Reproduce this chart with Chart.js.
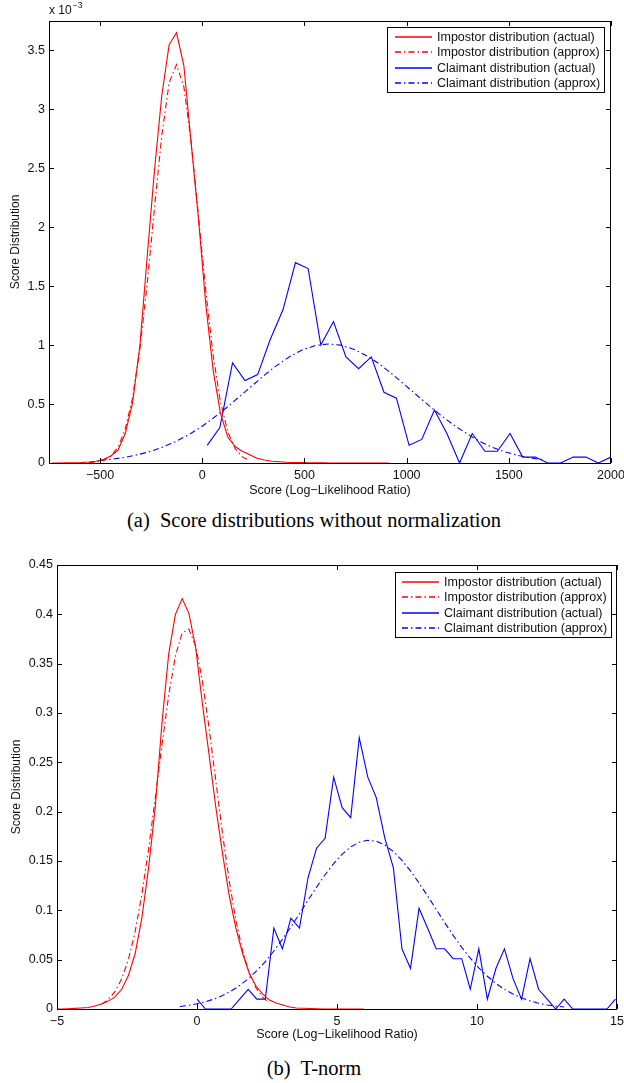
<!DOCTYPE html>
<html><head><meta charset="utf-8">
<script src="https://cdn.jsdelivr.net/npm/chart.js@4.4.1/dist/chart.umd.min.js"></script>
<style>
html,body{margin:0;padding:0;background:#fff;}
body{width:624px;height:1083px;position:relative;overflow:hidden;}
canvas{position:absolute;left:0;}
#ca{top:0;}
#cb{top:545px;}
.cap{position:absolute;left:0;width:628px;text-align:center;font-family:"Liberation Serif","Times New Roman",serif;font-size:20.5px;line-height:24px;color:#000;white-space:pre;}
</style></head><body>
<canvas id="ca" width="624" height="500"></canvas>
<canvas id="cb" width="624" height="500"></canvas>
<div class="cap" style="top:508px">(a)  Score distributions without normalization</div>
<div class="cap" style="top:1056px">(b)  T-norm</div>
<script>
// ---------- DATA: chart (a), values in units of 10^-3 ----------
const impActXA = [-735,-699,-663,-627,-591,-556,-520,-484,-448,-412,-377,-341,-305,-269,-233,-198,-162,-126,-90,-54,-18,17,53,89,125,161,196,232,268,304,340,375,411,447,483,519,555,590,626,662,698,734,769,805,841,877,913];
const impActYA = [0,0,0.001,0.002,0.004,0.008,0.015,0.03,0.06,0.11,0.25,0.51,1.00,1.76,2.50,3.12,3.55,3.65,3.37,2.71,2.06,1.35,0.79,0.42,0.22,0.14,0.10,0.07,0.04,0.025,0.015,0.01,0.006,0.004,0.003,0.002,0.001,0.001,0,0,0,0,0,0,0,0,0];
const impAppXA = [-556,-520,-484,-448,-412,-377,-341,-305,-269,-233,-198,-162,-126,-90,-54,-18,17,53,89,125,161,196,232];
const impAppYA = [0.002,0.007,0.022,0.057,0.136,0.286,0.554,0.970,1.530,2.178,2.780,3.228,3.38,3.191,2.717,2.087,1.462,0.916,0.517,0.264,0.121,0.052,0.019];
const claActXA = [24,86,148,209,271,333,395,456,518,580,642,703,765,827,889,950,1012,1074,1136,1197,1259,1321,1383,1444,1506,1568,1630,1691,1753,1815,1877,1938,2000];
const claActYA = [0.15,0.30,0.85,0.70,0.75,1.05,1.30,1.70,1.65,1.00,1.20,0.90,0.80,0.90,0.60,0.55,0.15,0.20,0.45,0.25,0,0.25,0.10,0.10,0.25,0.05,0.05,0,0,0.05,0.05,0,0.05];
const claAppXA = [-500,-438,-376,-314,-252,-190,-128,-66,-4,58,120,182,244,306,368,430,492,554,616,678,740,802,864,926,988,1050,1112,1174,1236,1298,1360,1422,1484,1546,1608,1670];
const claAppYA = [0.022,0.033,0.049,0.071,0.099,0.137,0.184,0.240,0.308,0.386,0.471,0.563,0.656,0.748,0.832,0.905,0.961,0.997,1.010,1.000,0.966,0.913,0.843,0.759,0.668,0.575,0.483,0.396,0.315,0.245,0.180,0.132,0.093,0.064,0.042,0.027];
const xTicksA = [-500,0,500,1000,1500,2000];
const yTicksA = [0,0.5,1,1.5,2,2.5,3,3.5];

// ---------- DATA: chart (b) ----------
const impActXB = [-5.09,-4.85,-4.61,-4.37,-4.13,-3.89,-3.65,-3.41,-3.17,-2.93,-2.69,-2.45,-2.21,-1.97,-1.73,-1.49,-1.25,-1.01,-0.77,-0.53,-0.29,-0.05,0.19,0.43,0.67,0.91,1.15,1.39,1.63,1.87,2.11,2.35,2.59,2.83,3.07,3.31,3.55,3.79,4.03,4.27,4.51,4.75,4.99,5.23,5.47,5.71,5.95];
const impActYB = [0,0,0.0003,0.0006,0.001,0.0015,0.003,0.005,0.008,0.012,0.020,0.034,0.056,0.092,0.143,0.205,0.290,0.360,0.400,0.416,0.401,0.367,0.310,0.258,0.205,0.158,0.115,0.082,0.056,0.036,0.023,0.015,0.009,0.006,0.004,0.002,0.001,0.0008,0.0005,0.0003,0,0,0,0,0,0,0];
const impAppXB = [-3.41,-3.17,-2.93,-2.69,-2.45,-2.21,-1.97,-1.73,-1.49,-1.25,-1.01,-0.77,-0.53,-0.29,-0.05,0.19,0.43,0.67,0.91,1.15,1.39,1.63,1.87,2.11,2.35,2.59];
const impAppYB = [0.0049,0.0096,0.0176,0.0306,0.0502,0.0783,0.116,0.162,0.214,0.268,0.318,0.358,0.381,0.385,0.368,0.333,0.285,0.232,0.178,0.130,0.0896,0.0586,0.0363,0.0213,0.0118,0.0062];
const claActXB = [0,0.305,0.61,0.915,1.22,1.525,1.83,2.135,2.44,2.745,3.05,3.355,3.66,3.965,4.27,4.575,4.88,5.185,5.49,5.795,6.1,6.405,6.71,7.015,7.32,7.625,7.93,8.235,8.54,8.845,9.15,9.455,9.76,10.065,10.37,10.675,10.98,11.285,11.59,11.895,12.2,12.505,12.81,13.115,13.42,13.725,14.03,14.335,14.64,14.945];
const claActYB = [0.010,0,0,0,0,0.010,0.020,0.010,0.010,0.082,0.061,0.092,0.082,0.133,0.163,0.173,0.235,0.204,0.194,0.275,0.235,0.214,0.173,0.143,0.061,0.041,0.102,0.082,0.061,0.061,0.051,0.051,0.020,0.061,0.010,0.041,0.061,0.031,0.010,0.051,0.020,0.010,0,0.010,0,0,0,0,0,0.010];
const claAppXB = [-0.61,-0.305,0,0.305,0.61,0.915,1.22,1.525,1.83,2.135,2.44,2.745,3.05,3.355,3.66,3.965,4.27,4.575,4.88,5.185,5.49,5.795,6.1,6.405,6.71,7.015,7.32,7.625,7.93,8.235,8.54,8.845,9.15,9.455,9.76,10.065,10.37,10.675,10.98,11.285,11.59,11.895,12.2,12.505,12.81,13.115];
const claAppYB = [0.0025,0.0037,0.0053,0.0074,0.0101,0.0137,0.0182,0.0238,0.0307,0.0388,0.0481,0.0588,0.0706,0.0833,0.0966,0.1102,0.1235,0.1361,0.1474,0.1569,0.1643,0.1690,0.1710,0.1700,0.1661,0.1596,0.1507,0.1400,0.1277,0.1146,0.1011,0.0876,0.0746,0.0625,0.0515,0.0417,0.0332,0.0259,0.0199,0.0151,0.0112,0.0082,0.0059,0.0041,0.0029,0.0020];
const xTicksB = [-5,0,5,10,15];
const yTicksB = [0,0.05,0.1,0.15,0.2,0.25,0.3,0.35,0.4,0.45];

const seriesNames = ['Impostor distribution (actual)','Impostor distribution (approx)','Claimant distribution (actual)','Claimant distribution (approx)'];

// ---------- rendering ----------
const FONT = '"Liberation Sans", Arial, Helvetica, sans-serif';
Chart.defaults.font.family = FONT;
Chart.defaults.color = '#111';
const RED = '#ff0000', BLUE = '#0000ff';
const DASHDOT = [6, 3, 1.5, 3];
const fmt = v => String(v).replace('-', '\u2212');
const pts = (xs, ys) => xs.map((x, i) => ({x, y: ys[i]}));

const framePlugin = {
  id: 'frame',
  afterDatasetsDraw(chart) {
    const {ctx, chartArea: a} = chart;
    const xs = chart.scales.x, ys = chart.scales.y;
    ctx.save();
    ctx.strokeStyle = '#000';
    ctx.lineWidth = 1;
    ctx.beginPath();
    const L = 5;
    xs.ticks.forEach(t => {
      const p = Math.round(xs.getPixelForValue(t.value)) + 0.5;
      ctx.moveTo(p, a.bottom); ctx.lineTo(p, a.bottom - L);
      ctx.moveTo(p, a.top); ctx.lineTo(p, a.top + L);
    });
    ys.ticks.forEach(t => {
      const p = Math.round(ys.getPixelForValue(t.value)) + 0.5;
      ctx.moveTo(a.left, p); ctx.lineTo(a.left + L, p);
      ctx.moveTo(a.right, p); ctx.lineTo(a.right - L, p);
    });
    ctx.stroke();
    ctx.strokeRect(a.left + 0.5, a.top + 0.5, a.right - a.left - 1, a.bottom - a.top);
    ctx.restore();
  },
  afterDraw(chart, args, o) {
    const {ctx} = chart;
    ctx.save();
    const lg = o.legend;
    ctx.fillStyle = '#fff';
    ctx.fillRect(lg.left, lg.top, lg.right - lg.left, lg.bottom - lg.top);
    ctx.strokeStyle = '#000';
    ctx.lineWidth = 1;
    ctx.strokeRect(lg.left + 0.5, lg.top + 0.5, lg.right - lg.left, lg.bottom - lg.top);
    ctx.font = '12.5px ' + FONT;
    ctx.textBaseline = 'middle';
    chart.data.datasets.forEach((ds, i) => {
      const y = lg.rows[i];
      ctx.strokeStyle = ds.borderColor;
      ctx.lineWidth = 1.3;
      ctx.setLineDash(ds.borderDash || []);
      ctx.beginPath();
      ctx.moveTo(lg.s1, Math.round(y));
      ctx.lineTo(lg.s2, Math.round(y));
      ctx.stroke();
      ctx.setLineDash([]);
      ctx.fillStyle = '#111';
      ctx.fillText(ds.label, lg.tx, y + 0.5);
    });
    if (o.exponent) {
      ctx.fillStyle = '#111';
      ctx.textBaseline = 'alphabetic';
      ctx.font = '12px ' + FONT;
      ctx.fillText('x 10', o.exponent.x, o.exponent.y);
      const w = ctx.measureText('x 10').width;
      ctx.font = '8.5px ' + FONT;
      ctx.fillText('\u22123', o.exponent.x + w + 1, o.exponent.y - 6);
    }
    ctx.restore();
  }
};

function makeChart(id, cfg) {
  const ds = (label, data, color, dash) => ({
    label, data, borderColor: color, backgroundColor: color, borderWidth: 1.1,
    borderDash: dash, pointRadius: 0, tension: 0, fill: false
  });
  return new Chart(document.getElementById(id), {
    type: 'line',
    data: { datasets: [
      ds(seriesNames[0], cfg.series[0], RED, []),
      ds(seriesNames[1], cfg.series[1], RED, DASHDOT),
      ds(seriesNames[2], cfg.series[2], BLUE, []),
      ds(seriesNames[3], cfg.series[3], BLUE, DASHDOT)
    ]},
    options: {
      responsive: false, animation: false,
      layout: { padding: cfg.padding },
      plugins: { legend: { display: false }, tooltip: { enabled: false }, frame: cfg.frame },
      scales: {
        x: {
          type: 'linear', min: cfg.xmin, max: cfg.xmax,
          afterBuildTicks: s => { s.ticks = cfg.xTicks.map(v => ({value: v})); },
          afterFit: s => { s.height = cfg.xAxisH; s.paddingLeft = 0; s.paddingRight = 0; },
          grid: { display: false, drawTicks: false },
          border: { display: false },
          ticks: { autoSkip: false, maxRotation: 0, padding: 5, font: { size: 12.5 }, callback: v => fmt(v) },
          title: { display: true, text: 'Score (Log\u2212Likelihood Ratio)', font: { size: 12.5 }, padding: { top: 0, bottom: cfg.xTitlePad } }
        },
        y: {
          type: 'linear', min: cfg.ymin, max: cfg.ymax,
          afterBuildTicks: s => { s.ticks = cfg.yTicks.map(v => ({value: v})); },
          afterFit: s => { s.width = cfg.yAxisW; s.paddingTop = 0; s.paddingBottom = 0; },
          grid: { display: false, drawTicks: false },
          border: { display: false },
          ticks: { autoSkip: false, padding: 4, font: { size: 12.5 }, callback: v => fmt(v) },
          title: { display: true, text: 'Score Distribution', font: { size: 12 }, padding: { top: cfg.yTitlePad, bottom: 0 } }
        }
      }
    },
    plugins: [framePlugin]
  });
}

makeChart('ca', {
  series: [pts(impActXA, impActYA), pts(impAppXA, impAppYA), pts(claActXA, claActYA), pts(claAppXA, claAppYA)],
  xmin: -750, xmax: 2000, ymin: 0, ymax: 3.75,
  xTicks: xTicksA, yTicks: yTicksA,
  padding: { left: 0, top: 21, right: 13, bottom: 0 },
  xAxisH: 37, yAxisW: 49, xTitlePad: 2, yTitlePad: 8,
  frame: {
    legend: { left: 387, top: 27, right: 604, bottom: 92, rows: [36.7, 52, 67.7, 83], s1: 395, s2: 432, tx: 437 },
    exponent: { x: 49, y: 14 }
  }
});

makeChart('cb', {
  series: [pts(impActXB, impActYB), pts(impAppXB, impAppYB), pts(claActXB, claActYB), pts(claAppXB, claAppYB)],
  xmin: -5, xmax: 15, ymin: 0, ymax: 0.45,
  xTicks: xTicksB, yTicks: yTicksB,
  padding: { left: 0, top: 20, right: 7, bottom: 0 },
  xAxisH: 36, yAxisW: 57, xTitlePad: 2.5, yTitlePad: 9,
  frame: {
    legend: { left: 395, top: 27, right: 611, bottom: 92, rows: [37.3, 52, 67.7, 83], s1: 402, s2: 439, tx: 444 }
  }
});
</script>
</body></html>
